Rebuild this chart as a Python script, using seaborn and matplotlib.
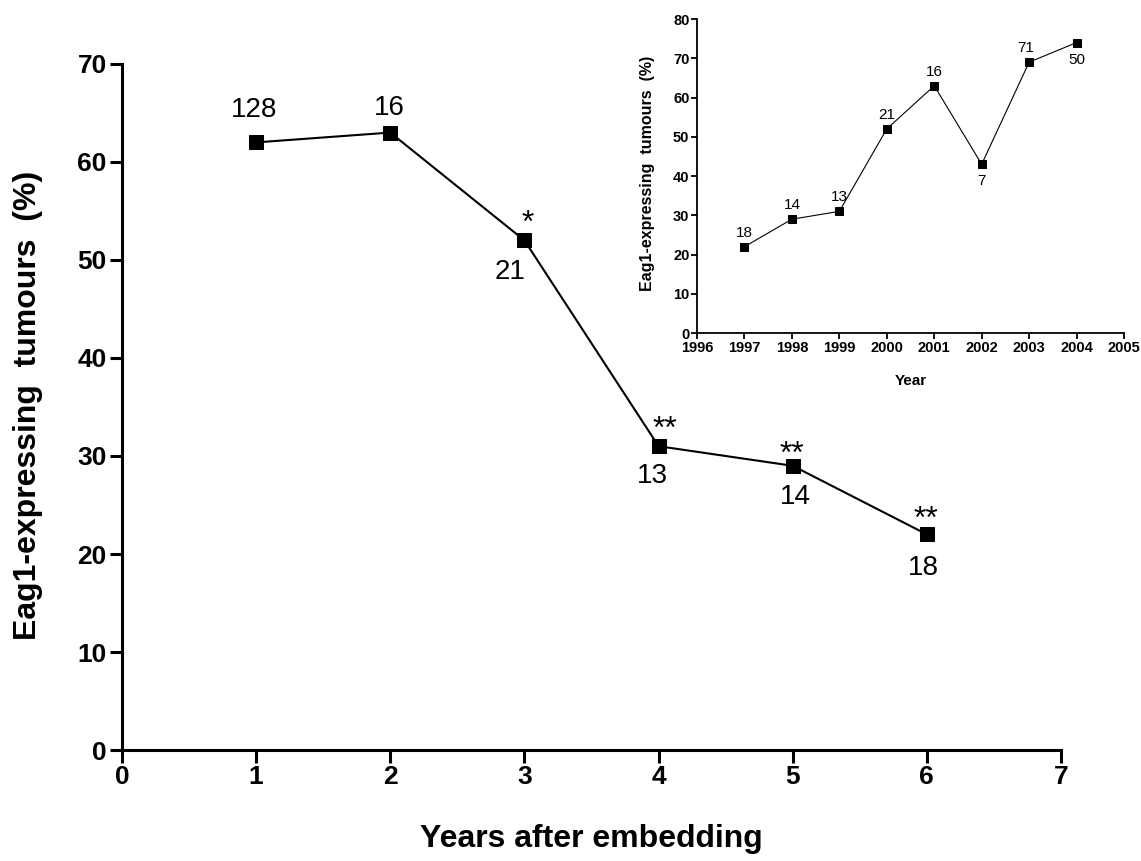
import matplotlib
matplotlib.use("Agg")
import matplotlib.pyplot as plt
import seaborn as sns
import pandas as pd

# main panel: fraction of Eag1-positive tumours vs. years after embedding
main_years = [1, 2, 3, 4, 5, 6]
main_pct = [62, 63, 52, 31, 29, 22]
main_n = ["128", "16", "21", "13", "14", "18"]
main_sig = ["", "", "*", "**", "**", "**"]

# inset: by calendar year
inset_years = [1997, 1998, 1999, 2000, 2001, 2002, 2003, 2004]
inset_pct = [22, 29, 31, 52, 63, 43, 69, 74]
inset_n = ["18", "14", "13", "21", "16", "7", "71", "50"]
inset_n_side = ["above", "above", "above", "above", "above", "below", "above", "below"]

main_ticks_x = [0, 1, 2, 3, 4, 5, 6, 7]
main_ticks_y = [0, 10, 20, 30, 40, 50, 60, 70]
inset_ticks_x = list(range(1996, 2006))
inset_ticks_y = [0, 10, 20, 30, 40, 50, 60, 70, 80]

# label offsets around each marker, in pixels (n label / significance stars)
n_dx = [-2, -1, -14, -6, 3, -3]
n_dy = [32, 25, -32, -30, -31, -34]
sig_dx = [0, 0, 3, 6, -1, -1]
sig_dy = [0, 0, 16, 16, 11, 14]

sns.set_style("ticks", {"axes.edgecolor": "black", "text.color": "black",
                        "axes.labelcolor": "black", "xtick.color": "black",
                        "ytick.color": "black"})
plt.rcParams["font.family"] = ["Liberation Sans", "DejaVu Sans"]

PX = 72 / 100  # pixel -> point at dpi 100

df_main = pd.DataFrame({"year": main_years, "pct": main_pct})
df_inset = pd.DataFrame({"year": inset_years, "pct": inset_pct})

fig = plt.figure(figsize=(11.41, 8.61), dpi=100)
ax = fig.add_axes([0.1069, 0.1289, 0.8230, 0.7968])

sns.lineplot(data=df_main, x="year", y="pct", ax=ax, color="black",
             linewidth=1.5, marker="s", markersize=10, markeredgecolor="black",
             markerfacecolor="black")

ax.set_xlim(0, 7)
ax.set_ylim(0, 70)
ax.set_xticks(main_ticks_x)
ax.set_yticks(main_ticks_y)
sns.despine(ax=ax)
for s in ["left", "bottom"]:
    ax.spines[s].set_linewidth(2.2)
ax.tick_params(axis="both", width=2.2, length=9, labelsize=19, pad=2)
for lab in ax.get_xticklabels() + ax.get_yticklabels():
    lab.set_fontweight("bold")

ax.set_xlabel("Years after embedding", fontsize=23, fontweight="bold")
ax.set_ylabel("Eag1-expressing  tumours  (%)", fontsize=23, fontweight="bold")
ax.xaxis.set_label_coords(0.5, -0.108)
ax.yaxis.set_label_coords(-0.084, 0.503)

for i, (x, y) in enumerate(zip(main_years, main_pct)):
    ax.annotate(main_n[i], (x, y), xytext=(n_dx[i] * PX, n_dy[i] * PX),
                textcoords="offset points", ha="center", va="center", fontsize=20)
    if main_sig[i]:
        ax.annotate(main_sig[i], (x, y), xytext=(sig_dx[i] * PX, sig_dy[i] * PX),
                    textcoords="offset points", ha="center", va="center", fontsize=23)

# inset
axi = fig.add_axes([0.6109, 0.6132, 0.3742, 0.3647])
sns.lineplot(data=df_inset, x="year", y="pct", ax=axi, color="black",
             linewidth=0.8, marker="s", markersize=5.5, markeredgecolor="black",
             markerfacecolor="black")
axi.set_xlim(1996, 2005)
axi.set_ylim(0, 80)
axi.set_xticks(inset_ticks_x)
axi.set_yticks(inset_ticks_y)
sns.despine(ax=axi)
for s in ["left", "bottom"]:
    axi.spines[s].set_linewidth(1.3)
axi.tick_params(axis="both", width=1.3, length=4, labelsize=10.5, pad=1.5)
for lab in axi.get_xticklabels() + axi.get_yticklabels():
    lab.set_fontweight("bold")
axi.set_xlabel("Year", fontsize=11, fontweight="bold")
axi.set_ylabel("Eag1-expressing  tumours  (%)", fontsize=11.5, fontweight="bold")
axi.xaxis.set_label_coords(0.5, -0.13)
axi.yaxis.set_label_coords(-0.098, 0.51)

for x, y, n, side in zip(inset_years, inset_pct, inset_n, inset_n_side):
    dy = 14 if side == "above" else -17
    dx = -3 if n == "71" else 0
    axi.annotate(n, (x, y), xytext=(dx * PX, dy * PX), textcoords="offset points",
                 ha="center", va="center", fontsize=11)

fig.savefig("out.png", dpi=100)
